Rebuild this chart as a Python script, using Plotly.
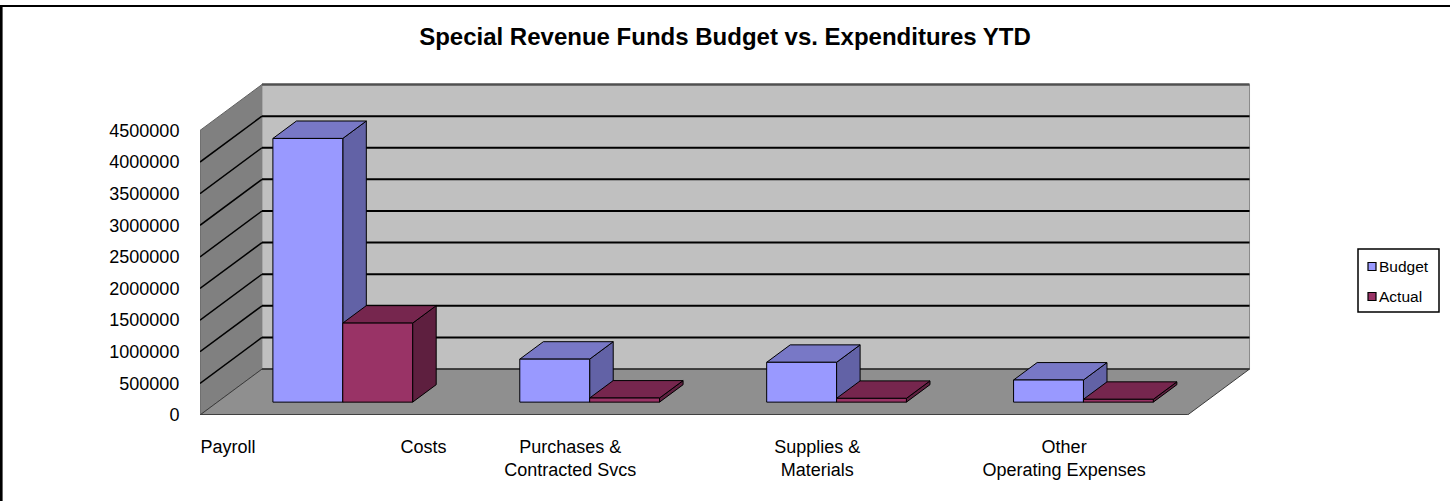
import plotly.graph_objects as go

# data
categories = [
    "Payroll" + "\u00a0" * 29 + "Costs",
    "Purchases &<br>Contracted Svcs",
    "Supplies &<br>Materials",
    "Other<br>Operating Expenses",
]
budget = [4170000, 680000, 630000, 350000]
actual = [1250000, 65000, 60000, 45000]
y_ticks = [0, 500000, 1000000, 1500000, 2000000, 2500000, 3000000, 3500000, 4000000, 4500000]

# page geometry
W, H = 1450, 501
ML, MR, MT, MB = 200, 198, 83, 86
PW, PH = W - ML - MR, H - MT - MB

# pseudo 3d: depth vector in axis units (x: categories, y: value)
DX = 0.251
DY = 726000
WALL_TOP = y_ticks[-1]
BAR_W = 0.283
D0, D1 = 0.28, 0.66  # front / back plane of the bars as fraction of depth
N = len(categories)
XMAX = N + DX + 0.01
YMAX = WALL_TOP + DY + 0.024e6

FONT = "Arial, Liberation Sans, sans-serif"

SERIES = [
    ("Budget", budget, -1, "#9999FF", "#7878C6", "#6262A6"),
    ("Actual", actual, 1, "#993366", "#76264E", "#5E1F3F"),
]


def px_x(p):
    return (p - ML) / PW


def px_y(p):
    return (H - MB - p) / PH


def poly(pts):
    return "M" + " L".join(f"{x},{y}" for x, y in pts) + " Z"


shapes = []

# left side wall
shapes.append(dict(type="path", xref="x", yref="y", layer="below",
                   path=poly([(0, 0), (0, WALL_TOP), (DX, WALL_TOP + DY), (DX, DY)]),
                   fillcolor="#808080", line=dict(color="#606060", width=1)))
# back wall
shapes.append(dict(type="rect", xref="x", yref="y", layer="below",
                   x0=DX, x1=N + DX, y0=DY, y1=WALL_TOP + DY,
                   fillcolor="#C0C0C0", line=dict(color="#8a8a8a", width=1)))
# floor
shapes.append(dict(type="path", xref="x", yref="y", layer="below",
                   path=poly([(0, 0), (N, 0), (N + DX, DY), (DX, DY)]),
                   fillcolor="#8F8F8F", line=dict(color="#3a3a3a", width=1)))
shapes.append(dict(type="line", xref="x", yref="y", layer="below",
                   x0=0, x1=N, y0=0, y1=0, line=dict(color="#404040", width=2)))

# gridlines on back and side walls
for v in y_ticks[1:-1]:
    shapes.append(dict(type="line", xref="x", yref="y", layer="below",
                       x0=DX, x1=N + DX, y0=v + DY, y1=v + DY,
                       line=dict(color="black", width=2)))
    shapes.append(dict(type="line", xref="x", yref="y", layer="below",
                       x0=0, x1=DX, y0=v, y1=v + DY,
                       line=dict(color="black", width=1.5)))
shapes.append(dict(type="line", xref="x", yref="y", layer="below",
                   x0=DX, x1=N + DX, y0=WALL_TOP + DY, y1=WALL_TOP + DY,
                   line=dict(color="#505050", width=2.5)))
shapes.append(dict(type="line", xref="x", yref="y", layer="below",
                   x0=DX, x1=N + DX, y0=DY, y1=DY,
                   line=dict(color="#303030", width=1.5)))

# bar top and side faces (front faces are real bar traces)
bdx = (D1 - D0) * DX
bdy = (D1 - D0) * DY
base = D0 * DY
for i in range(N):
    for name, vals, side, front, top, dark in SERIES:
        xl = i + 0.5 + (BAR_W if side > 0 else -BAR_W) / 2 - BAR_W / 2 + D0 * DX + 0.008
        xr = xl + BAR_W
        t = base + vals[i]
        shapes.append(dict(type="path", xref="x", yref="y", layer="below",
                           path=poly([(xr, base), (xr, t), (xr + bdx, t + bdy), (xr + bdx, base + bdy)]),
                           fillcolor=dark, line=dict(color="black", width=1)))
        shapes.append(dict(type="path", xref="x", yref="y", layer="below",
                           path=poly([(xl, t), (xr, t), (xr + bdx, t + bdy), (xl + bdx, t + bdy)]),
                           fillcolor=top, line=dict(color="black", width=1)))

# outer chart frame (left and top edges visible)
shapes.append(dict(type="line", xref="paper", yref="paper",
                   x0=px_x(1.3), x1=px_x(1.3), y0=px_y(5), y1=px_y(H + 5),
                   line=dict(color="black", width=2.6)))
shapes.append(dict(type="line", xref="paper", yref="paper",
                   x0=px_x(0), x1=px_x(W + 5), y0=px_y(6), y1=px_y(6),
                   line=dict(color="black", width=2.2)))

# legend box, drawn by hand to match the small Excel legend
annotations = []
shapes.append(dict(type="rect", xref="paper", yref="paper",
                   x0=px_x(1358), x1=px_x(1439), y0=px_y(249), y1=px_y(312),
                   fillcolor="white", line=dict(color="black", width=1.5)))
for k, (name, vals, side, front, top, dark) in enumerate(SERIES):
    cy = 266.5 + k * 30
    shapes.append(dict(type="rect", xref="paper", yref="paper",
                       x0=px_x(1368), x1=px_x(1376), y0=px_y(cy - 4), y1=px_y(cy + 4),
                       fillcolor=front, line=dict(color="black", width=1.2)))
    annotations.append(dict(text=name, xref="paper", yref="paper",
                            x=px_x(1377), y=px_y(cy), xanchor="left", yanchor="middle",
                            showarrow=False, font=dict(size=15.5, family=FONT, color="black")))

fig = go.Figure()
for name, vals, side, front, top, dark in SERIES:
    xs = [i + 0.5 + side * BAR_W / 2 + D0 * DX + 0.008 for i in range(N)]
    fig.add_trace(go.Bar(
        x=xs, y=vals, base=[base] * N, width=BAR_W, name=name,
        marker_color=front, marker_line_color="black", marker_line_width=1,
        showlegend=False,
    ))

fig.update_layout(
    width=W, height=H,
    margin=dict(l=ML, r=MR, t=MT, b=MB),
    paper_bgcolor="white", plot_bgcolor="white",
    barmode="overlay",
    font=dict(family=FONT, color="black"),
    title=dict(text="<b>Special Revenue Funds Budget vs. Expenditures YTD</b>",
               x=0.5, xref="container", xanchor="center",
               y=1 - 37 / H, yref="container", yanchor="middle",
               font=dict(size=24, family=FONT, color="black")),
    shapes=shapes,
    annotations=annotations,
    showlegend=False,
)
fig.update_xaxes(
    range=[0, XMAX], tickvals=[i + 0.5 for i in range(N)], ticktext=categories,
    showgrid=False, zeroline=False, showline=False,
    ticks="outside", ticklen=15, tickcolor="rgba(0,0,0,0)",
    tickfont=dict(size=18, family=FONT), automargin=False, fixedrange=True,
)
fig.update_yaxes(
    range=[0, YMAX], tickvals=y_ticks, tickformat="d",
    showgrid=False, zeroline=False, showline=False,
    ticks="outside", ticklen=16, tickcolor="rgba(0,0,0,0)",
    tickfont=dict(size=18, family=FONT), automargin=False, fixedrange=True,
)

fig.write_html(
    "out.html",
    config={"displayModeBar": False},
    post_script="document.body.style.margin='0';document.body.style.overflow='hidden';",
)
